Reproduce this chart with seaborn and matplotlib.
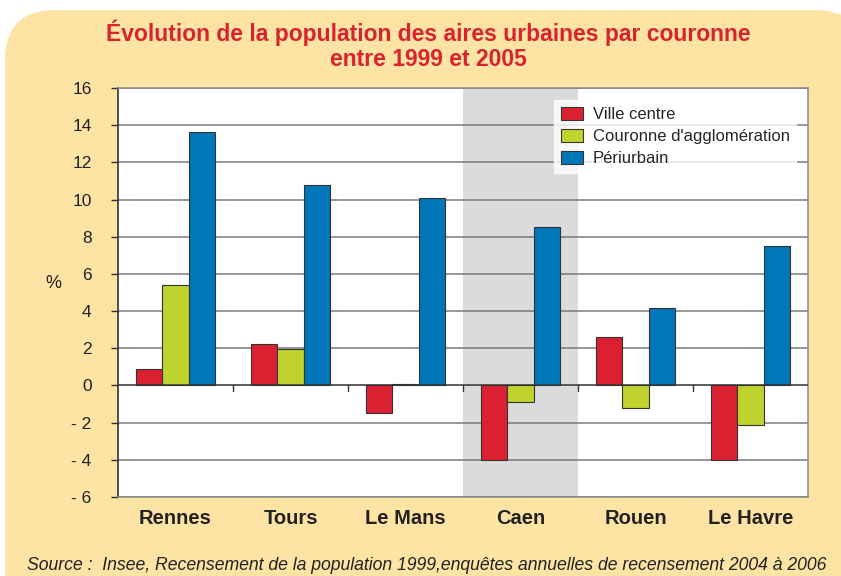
import matplotlib
matplotlib.use("Agg")
import matplotlib.pyplot as plt
import seaborn as sns
import pandas as pd
from matplotlib.patches import FancyBboxPatch

cities = ["Rennes", "Tours", "Le Mans", "Caen", "Rouen", "Le Havre"]
series = ["Ville centre", "Couronne d'agglomération", "Périurbain"]
ville_centre = [0.9, 2.25, -1.5, -4.0, 2.6, -4.0]
couronne = [5.4, 1.95, 0.08, -0.9, -1.2, -2.15]
periurbain = [13.65, 10.8, 10.1, 8.5, 4.15, 7.5]
colors = ["#db2032", "#c0d22e", "#0077b8"]
yticks = [-6, -4, -2, 0, 2, 4, 6, 8, 10, 12, 14, 16]
ytick_labels = ["- 6", "- 4", "- 2", "0", "2", "4", "6", "8", "10", "12", "14", "16"]

df = pd.DataFrame({
    "ville": cities * 3,
    "serie": [series[0]] * 6 + [series[1]] * 6 + [series[2]] * 6,
    "val": ville_centre + couronne + periurbain,
})

sns.set_theme(style="white")
plt.rcParams["font.family"] = ["Liberation Sans", "DejaVu Sans"]

fig = plt.figure(figsize=(8.41, 5.76), dpi=100)
fig.patch.set_facecolor("white")
W, H = 841, 576
bg = FancyBboxPatch((5 / W, -0.1), 860 / W, (576 - 10) / H + 0.1,
                    boxstyle="round,pad=0,rounding_size=0.06",
                    transform=fig.transFigure, facecolor="#fde3a4",
                    edgecolor="none", zorder=-10, mutation_aspect=W / H)
fig.patches.append(bg)

ax = fig.add_axes([118 / W, 1 - 497 / H, 690 / W, 409 / H])
ax.set_facecolor("white")

# shaded Caen column
ax.axvspan(2.5, 3.5, color="#dadbdd", zorder=0, lw=0)

for y in yticks:
    if y != 0:
        ax.axhline(y, color="#7a7a7a", lw=1.1, zorder=1)

sns.barplot(data=df, x="ville", y="val", hue="serie", order=cities,
            hue_order=series, palette=colors, width=0.68, ax=ax,
            edgecolor="#333333", linewidth=0.8, zorder=3, legend=True,
            saturation=1)

ax.axhline(0, color="#333333", lw=1.1, zorder=4)
for b in [0.5, 1.5, 2.5, 3.5, 4.5]:
    ax.plot([b, b], [0, -0.3], color="#333333", lw=1, zorder=4)

ax.set_xlim(-0.5, 5.5)
ax.set_ylim(-6, 16)
ax.set_yticks(yticks)
ax.set_yticklabels(ytick_labels, fontsize=12.5, color="#222222")
ax.set_xlabel("")
ax.set_ylabel("")
ax.tick_params(axis="y", which="major", left=True, length=5, width=1, color="#333333", pad=14)
ax.tick_params(axis="x", bottom=False, pad=3)
for lab in ax.get_xticklabels():
    lab.set_fontweight("bold")
    lab.set_fontsize(14.5)
    lab.set_color("#222222")

for s in ["top", "right", "bottom"]:
    ax.spines[s].set_color("#8a8a8a")
    ax.spines[s].set_linewidth(1.1)
ax.spines["left"].set_color("#333333")
ax.spines["left"].set_linewidth(1.2)
for s in ax.spines.values():
    s.set_visible(True)

leg = ax.legend(loc="upper right", bbox_to_anchor=(0.995, 0.99), frameon=True,
                fontsize=12, handlelength=1.3, handleheight=0.8,
                handletextpad=0.6, labelspacing=0.4, borderpad=0.4,
                fancybox=False)
leg.get_frame().set_facecolor("white")
leg.get_frame().set_edgecolor("white")
leg.set_zorder(6)

fig.text(53 / W, 1 - 284 / H, "%", ha="center", va="center", fontsize=13, color="#222222")
fig.text(428 / W, 1 - 33 / H, "Évolution de la population des aires urbaines par couronne",
         ha="center", va="center", fontsize=16.5, fontweight="bold", color="#d9232e")
fig.text(428 / W, 1 - 59 / H, "entre 1999 et 2005",
         ha="center", va="center", fontsize=16.5, fontweight="bold", color="#d9232e")
fig.text(27 / W, 1 - 566 / H,
         "Source :  Insee, Recensement de la population 1999,enquêtes annuelles de recensement 2004 à 2006",
         ha="left", va="center", fontsize=12.7, style="italic", color="#222222")

fig.savefig("out.png", dpi=100, facecolor="white")
